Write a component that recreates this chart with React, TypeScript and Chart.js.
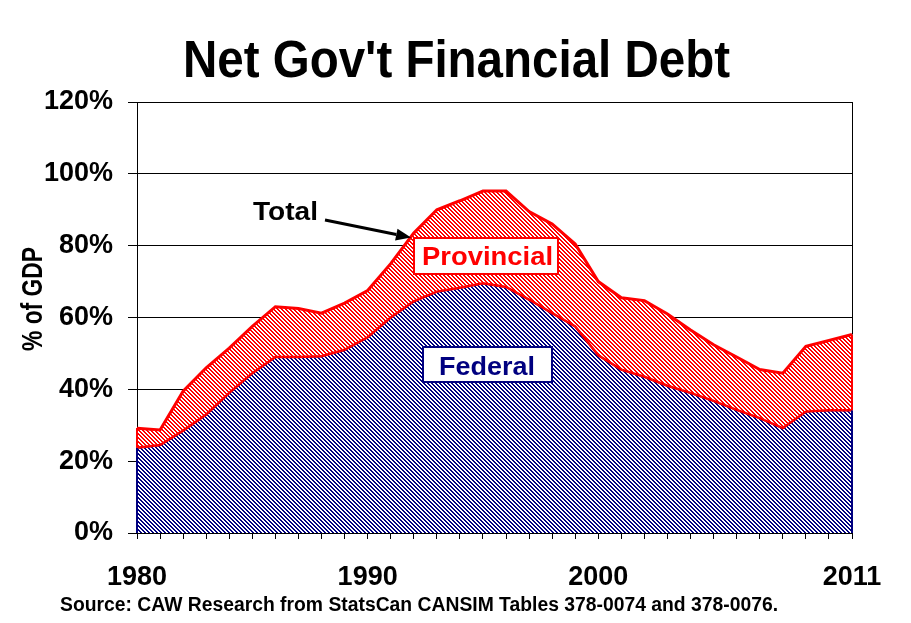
import React, { useEffect, useRef } from "react";
import { Chart, registerables } from "chart.js";

Chart.register(...registerables);

const years: number[] = [
  1980, 1981, 1982, 1983, 1984, 1985, 1986, 1987, 1988, 1989,
  1990, 1991, 1992, 1993, 1994, 1995, 1996, 1997, 1998, 1999,
  2000, 2001, 2002, 2003, 2004, 2005, 2006, 2007, 2008, 2009,
  2010, 2011,
];

const federal: number[] = [
  23.7, 24.5, 28.5, 33.0, 39.0, 44.5, 49.0, 49.0, 49.2, 51.0,
  54.5, 60.0, 64.5, 67.2, 68.3, 69.5, 68.5, 65.0, 61.2, 57.5,
  49.5, 45.5, 43.5, 41.0, 39.0, 36.8, 34.3, 32.0, 29.2, 33.8,
  34.2, 34.2,
];

const total: number[] = [
  29.2, 28.7, 39.5, 46.0, 51.5, 57.5, 63.0, 62.5, 61.2, 64.0,
  67.5, 75.0, 83.5, 90.0, 92.5, 95.2, 95.2, 89.5, 86.0, 80.5,
  70.0, 65.5, 64.7, 61.0, 56.5, 52.4, 49.0, 45.5, 44.5, 52.0,
  53.6, 55.3,
];

const labeledYears: number[] = [1980, 1990, 2000, 2011];
const yTicks: number[] = [0, 20, 40, 60, 80, 100, 120];

const TITLE = "Net Gov't Financial Debt";
const Y_TITLE = "% of GDP";
const SOURCE = "Source: CAW Research from StatsCan CANSIM Tables 378-0074 and 378-0076.";
const NAVY = "#000080";
const RED = "#FF0000";
const FONT = "'Liberation Sans', Arial, sans-serif";

function makePattern(color: string): CanvasPattern | string {
  const c = document.createElement("canvas");
  c.width = 4;
  c.height = 4;
  const g = c.getContext("2d");
  if (!g) return color;
  g.fillStyle = "#ffffff";
  g.fillRect(0, 0, 4, 4);
  g.fillStyle = color;
  for (let y = 0; y < 4; y++) {
    for (let x = 0; x < 4; x++) {
      if ((((x - y) % 4) + 4) % 4 < 2) g.fillRect(x, y, 1, 1);
    }
  }
  const p = g.createPattern(c, "repeat");
  return p || color;
}

function fitText(
  ctx: CanvasRenderingContext2D,
  text: string,
  cx: number,
  baseY: number,
  size: number,
  width: number,
  color: string,
  rotate = false
) {
  ctx.save();
  ctx.font = `bold ${size}px ${FONT}`;
  const w = ctx.measureText(text).width;
  ctx.translate(cx, baseY);
  if (rotate) ctx.rotate(-Math.PI / 2);
  ctx.scale(width / w, 1);
  ctx.textAlign = "center";
  ctx.textBaseline = "alphabetic";
  ctx.fillStyle = color;
  ctx.fillText(text, 0, 0);
  ctx.restore();
}

const decorPlugin = {
  id: "decor",
  afterDatasetsDraw(chart: any) {
    const ctx: CanvasRenderingContext2D = chart.ctx;
    const xs = chart.scales.x;
    const ys = chart.scales.y;
    const area = chart.chartArea;
    const first = 0;
    const last = years.length - 1;
    const xl = xs.getPixelForValue(years[first]);
    const xr = xs.getPixelForValue(years[last]);
    ctx.save();
    ctx.lineWidth = 2;
    ctx.strokeStyle = NAVY;
    ctx.beginPath();
    ctx.moveTo(xl, ys.getPixelForValue(0));
    ctx.lineTo(xl, ys.getPixelForValue(federal[first]));
    ctx.moveTo(xr, ys.getPixelForValue(0));
    ctx.lineTo(xr, ys.getPixelForValue(federal[last]));
    ctx.stroke();
    ctx.strokeStyle = RED;
    ctx.beginPath();
    ctx.moveTo(xl, ys.getPixelForValue(federal[first]));
    ctx.lineTo(xl, ys.getPixelForValue(total[first]));
    ctx.moveTo(xr, ys.getPixelForValue(federal[last]));
    ctx.lineTo(xr, ys.getPixelForValue(total[last]));
    ctx.stroke();
    ctx.lineWidth = 1;
    ctx.strokeStyle = "#000";
    ctx.beginPath();
    ctx.moveTo(Math.round(area.right) + 0.5, area.top);
    ctx.lineTo(Math.round(area.right) + 0.5, ys.getPixelForValue(total[last]));
    ctx.stroke();

    ctx.fillStyle = "#fff";
    ctx.fillRect(413, 237, 146, 38);
    ctx.lineWidth = 2;
    ctx.strokeStyle = RED;
    ctx.strokeRect(414, 238, 144, 36);
    fitText(ctx, "Provincial", 487.5, 265, 26, 131, RED);

    ctx.fillStyle = "#fff";
    ctx.fillRect(422, 346, 131, 37);
    ctx.strokeStyle = NAVY;
    ctx.strokeRect(423, 347, 129, 35);
    fitText(ctx, "Federal", 487, 375, 25, 96, NAVY);

    fitText(ctx, "Total", 285.5, 220, 25, 65, "#000");
    const x0 = 325, y0 = 220, x1 = 411, y1 = 237.5;
    const ang = Math.atan2(y1 - y0, x1 - x0);
    const headLen = 15, headW = 6;
    const bx = x1 - headLen * Math.cos(ang);
    const by = y1 - headLen * Math.sin(ang);
    ctx.strokeStyle = "#000";
    ctx.lineWidth = 3;
    ctx.beginPath();
    ctx.moveTo(x0, y0);
    ctx.lineTo(bx, by);
    ctx.stroke();
    ctx.fillStyle = "#000";
    ctx.beginPath();
    ctx.moveTo(x1, y1);
    ctx.lineTo(bx + headW * Math.sin(ang), by - headW * Math.cos(ang));
    ctx.lineTo(bx - headW * Math.sin(ang), by + headW * Math.cos(ang));
    ctx.closePath();
    ctx.fill();
    ctx.restore();
  },
  afterDraw(chart: any) {
    const ctx: CanvasRenderingContext2D = chart.ctx;
    fitText(ctx, TITLE, 456.5, 77, 51, 547, "#000");
    fitText(ctx, Y_TITLE, 42, 299, 30, 104, "#000", true);
    fitText(ctx, SOURCE, 419, 611, 20, 718, "#000");
  },
};

export default function App() {
  const ref = useRef<HTMLCanvasElement | null>(null);

  useEffect(() => {
    document.body.style.margin = "0";
    const canvas = ref.current;
    if (!canvas) return;
    const navyPat = makePattern(NAVY);
    const redPat = makePattern(RED);

    const chart = new Chart(canvas, {
      type: "line",
      data: {
        datasets: [
          {
            label: "Federal",
            data: years.map((y, i) => ({ x: y, y: federal[i] })),
            backgroundColor: navyPat as any,
            borderColor: NAVY,
            borderWidth: 2,
            fill: "origin",
            pointRadius: 0,
            tension: 0,
            order: 3,
          },
          {
            label: "Total",
            data: years.map((y, i) => ({ x: y, y: total[i] })),
            backgroundColor: redPat as any,
            borderColor: RED,
            borderWidth: 3,
            fill: 0,
            pointRadius: 0,
            tension: 0,
            order: 2,
          },
          {
            label: "FederalEdge",
            data: years.map((y, i) => ({ x: y, y: federal[i] })),
            borderColor: RED,
            borderWidth: 2.5,
            fill: false,
            pointRadius: 0,
            tension: 0,
            order: 1,
          },
        ],
      },
      options: {
        responsive: false,
        animation: false,
        layout: { padding: { top: 102, right: 59, left: 0, bottom: 0 } },
        plugins: {
          legend: { display: false },
          tooltip: { enabled: false },
          title: { display: false },
        },
        scales: {
          x: {
            type: "linear",
            min: years[0],
            max: years[years.length - 1],
            afterFit: (s: any) => {
              s.height = 90;
            },
            afterBuildTicks: (s: any) => {
              s.ticks = years.map((v) => ({ value: v }));
            },
            ticks: {
              autoSkip: false,
              maxRotation: 0,
              padding: 22,
              color: "#000",
              font: { family: FONT, size: 27, weight: "bold" },
              callback: (v: any) => (labeledYears.includes(Number(v)) ? String(v) : ""),
            },
            grid: {
              display: true,
              drawOnChartArea: false,
              drawTicks: true,
              tickLength: 6,
              color: "#000",
            },
            border: { display: true, color: "#000", width: 1 },
          },
          y: {
            type: "linear",
            min: 0,
            max: 120,
            afterFit: (s: any) => {
              s.width = 137;
            },
            afterBuildTicks: (s: any) => {
              s.ticks = yTicks.map((v) => ({ value: v }));
            },
            ticks: {
              padding: 15,
              color: "#000",
              font: { family: FONT, size: 27, weight: "bold" },
              callback: (v: any) => `${v}%`,
            },
            grid: {
              color: "#000",
              lineWidth: 1,
              drawTicks: true,
              tickLength: 9,
            },
            border: { display: true, color: "#000", width: 1 },
          },
        },
      },
      plugins: [decorPlugin],
    });

    return () => chart.destroy();
  }, []);

  return (
    <div style={{ width: 911, height: 623, background: "#fff" }}>
      <canvas ref={ref} width={911} height={623} style={{ display: "block" }} />
    </div>
  );
}
